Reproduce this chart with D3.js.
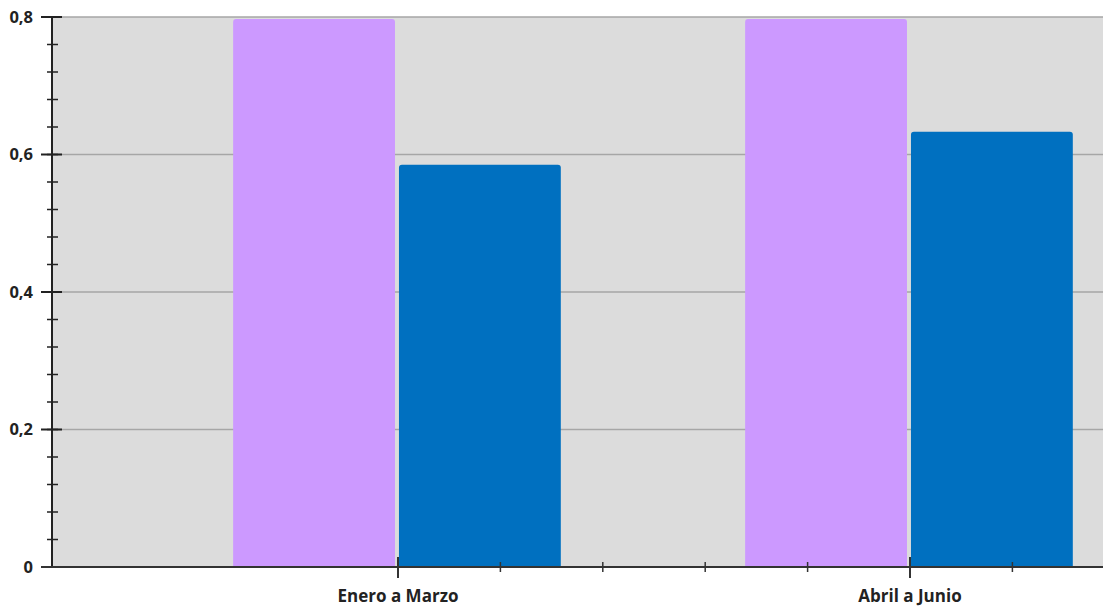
<!DOCTYPE html>
<html>
<head>
<meta charset="utf-8">
<script src="https://cdn.jsdelivr.net/npm/d3@7"></script>
<style>
  body { margin: 0; background: #fff; }
  svg { display: block; }
</style>
</head>
<body>
<svg id="viz"></svg>
<script>
const categories = ["Enero a Marzo", "Abril a Junio"];
const series = ["Serie 1", "Serie 2"];
const serie1 = [0.797, 0.797];
const serie2 = [0.585, 0.633];
const yTicks = [0, 0.2, 0.4, 0.6, 0.8];

(function () {
  const width = 1103, height = 606;
  const colors = { "Serie 1": "#cc99ff", "Serie 2": "#0070c0" };

  const svg = d3.select("#viz")
      .attr("width", width)
      .attr("height", height);

  const plotLeft = 52, plotTop = 17, plotBottom = 567;

  // chart is wider than the window, right part is cut off
  const x = d3.scaleBand().domain(categories).range([142, 1166]).paddingInner(0);
  const bw = x.bandwidth();
  const xs = d3.scaleBand().domain(series).range([bw * 0.178, bw * 0.818]).paddingInner(0.024);
  const y = d3.scaleLinear().domain([0, 0.8]).range([plotBottom, plotTop]);

  const fmt = d3.formatLocale({ decimal: ",", thousands: ".", grouping: [3], currency: ["", "€"] }).format("~g");

  // plot background
  svg.append("rect")
      .attr("x", plotLeft).attr("y", plotTop)
      .attr("width", width - plotLeft).attr("height", plotBottom - plotTop)
      .attr("fill", "#dcdcdc");

  // gridlines
  svg.append("g")
    .selectAll("line")
    .data(yTicks.filter(d => d > 0))
    .join("line")
      .attr("x1", plotLeft).attr("x2", width)
      .attr("y1", d => y(d)).attr("y2", d => y(d))
      .attr("stroke", "#a6a6a6").attr("stroke-width", 1.5);

  // bars
  const rows = categories.map((c, i) => ({ cat: c, values: [serie1[i], serie2[i]] }));
  const r = 3;
  svg.append("g")
    .selectAll("g")
    .data(rows)
    .join("g")
      .attr("transform", d => `translate(${x(d.cat)},0)`)
    .selectAll("path")
    .data(d => d.values.map((v, j) => ({ s: series[j], v })))
    .join("path")
      .attr("fill", d => colors[d.s])
      .attr("d", d => {
        const x0 = xs(d.s), x1 = x0 + xs.bandwidth(), y0 = y(d.v), y1 = y(0);
        return `M${x0},${y1}V${y0 + r}Q${x0},${y0} ${x0 + r},${y0}H${x1 - r}Q${x1},${y0} ${x1},${y0 + r}V${y1}Z`;
      });

  // y axis
  const yAxis = svg.append("g").attr("stroke", "#222");
  yAxis.append("line")
      .attr("x1", plotLeft).attr("x2", plotLeft)
      .attr("y1", plotTop).attr("y2", plotBottom)
      .attr("stroke-width", 2);
  yAxis.selectAll(".minor")
    .data(d3.range(0, 0.8001, 0.04))
    .join("line")
      .attr("x1", plotLeft - 5).attr("x2", plotLeft + 6)
      .attr("y1", d => y(d)).attr("y2", d => y(d))
      .attr("stroke-width", 1.5);
  yAxis.selectAll(".major")
    .data(yTicks)
    .join("line")
      .attr("x1", plotLeft - 11).attr("x2", plotLeft + 10)
      .attr("y1", d => y(d)).attr("y2", d => y(d))
      .attr("stroke-width", 2);
  svg.append("g")
    .selectAll("text")
    .data(yTicks)
    .join("text")
      .attr("x", 33).attr("y", d => y(d))
      .attr("dy", "0.35em")
      .attr("text-anchor", "end")
      .style("font", "bold 16.5px 'Open Sans', sans-serif")
      .attr("fill", "#222")
      .text(d => fmt(d));

  // x axis
  const xAxis = svg.append("g").attr("stroke", "#333");
  xAxis.append("line")
      .attr("x1", plotLeft - 11).attr("x2", width)
      .attr("y1", plotBottom).attr("y2", plotBottom)
      .attr("stroke-width", 2);
  const minorX = [];
  categories.forEach(c => { for (let k = 1; k < 5; k++) minorX.push(x(c) + bw / 2 + k * bw / 5); });
  xAxis.selectAll(".minor")
    .data(minorX)
    .join("line")
      .attr("x1", d => d).attr("x2", d => d)
      .attr("y1", plotBottom - 5).attr("y2", plotBottom + 5)
      .attr("stroke-width", 1.5);
  xAxis.selectAll(".major")
    .data(categories)
    .join("line")
      .attr("x1", d => x(d) + bw / 2).attr("x2", d => x(d) + bw / 2)
      .attr("y1", plotBottom - 10).attr("y2", plotBottom + 11)
      .attr("stroke-width", 2);
  svg.append("g")
    .selectAll("text")
    .data(categories)
    .join("text")
      .attr("x", d => x(d) + bw / 2).attr("y", 596)
      .attr("dy", "0.35em")
      .attr("text-anchor", "middle")
      .style("font", "bold 17px 'Open Sans', sans-serif")
      .attr("fill", "#222")
      .text(d => d);
})();
</script>
</body>
</html>
